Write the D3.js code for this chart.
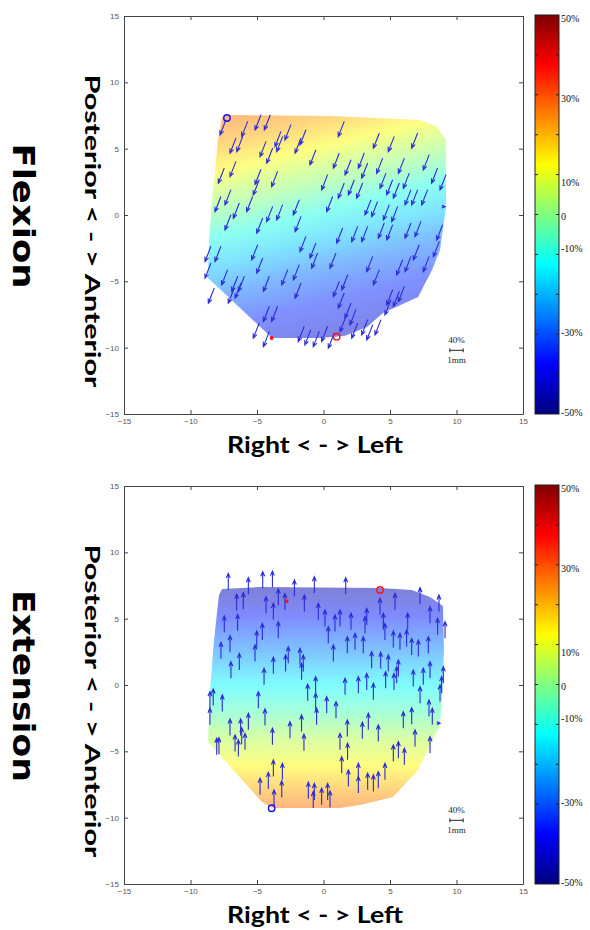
<!DOCTYPE html>
<html>
<head>
<meta charset="utf-8">
<script src="https://cdn.jsdelivr.net/npm/d3@7"></script>
<style>
  body { margin: 0; background: #fff; }
  .tick text { font-family: "Liberation Sans", Arial, sans-serif; font-size: 8px; fill: #555; }
  .tick line, .domain { stroke: #444; }
</style>
</head>
<body>
<script>
// ---- data -------------------------------------------------------------
var axisTicks = [-15, -10, -5, 0, 5, 10, 15];
var cbLabels = ["50%", "30%", "10%", "0", "-10%", "-30%", "-50%"];
// where each colour-bar label sits, on the bar's -50..50 scale
var cbLabelPos = [49, 29, 8, -0.5, -8.5, -29.5, -49.5];
var cbTickVals = [-40, -30, -20, -10, 0, 10, 20, 30, 40];

// outline of the measured region (mm)
var flexOutline = [[-7.63, 7.39], [-7.18, 7.54], [0.49, 7.46], [7.26, 7.16], [8.53, 6.64], [9.21, 5.66],
  [9.21, 0.61], [8.76, -2.63], [8.16, -4.14], [7.11, -6.18], [4.47, -7.38], [3.27, -8.44], [1.62, -9.11],
  [-0.26, -9.27], [-3.87, -9.27], [-8.68, -4.74], [-8.61, -1.88], [-8.31, 1.89], [-7.93, 5.66]];
var extOutline = [[-7.63, 7.24], [-4.77, 7.39], [4.25, 7.31], [6.65, 7.16], [8.0, 6.64], [8.98, 5.96],
  [9.06, 2.64], [8.91, -1.13], [8.76, -3.01], [7.11, -6.4], [5.23, -8.44], [2.74, -9.04], [1.24, -9.27],
  [-3.87, -9.27], [-4.62, -8.82], [-8.68, -4.29], [-8.53, -0.37], [-8.23, 3.39], [-7.86, 6.78]];

// strain along the colour axis (top end -> bottom end)
var flexGradEnds = [[-2.5, 8.5], [2, -10]];
var flexStopAt = [0, 0.1, 0.2, 0.33, 0.45, 0.56, 0.68, 0.8, 1];
var flexStopVal = [26, 20, 12, 1, -10, -18, -27, -34, -44];
var extGradEnds = [[0, 7.5], [0, -9.5]];
var extStopAt = [0, 0.14, 0.32, 0.44, 0.56, 0.68, 0.8, 0.92, 1];
var extStopVal = [-46, -35, -22, -13, -5, 5, 13, 22, 28];

// displacement arrows: head positions (mm) and displacement vector
var flexVec = [-0.45, -1.15];
var flexHeads = [[-7.78, 6.03], [-5.15, 6.41], [-4.45, 6.41], [-6.15, 5.91], [-3.65, 5.15], [-2.9, 5.66],
  [-7.03, 4.65], [-6.52, 4.78], [-4.77, 4.4], [-4.27, 3.9], [-3.52, 4.78], [-2.14, 4.65], [-1.77, 5.28],
  [-1.02, 3.77], [-7.91, 2.39], [-7.03, 2.89], [-5.28, 1.51], [-5.15, 2.3], [-3.9, 2.14], [-8.16, 0.25],
  [-7.41, 0.76], [-5.78, 0.25], [-6.78, -0.25], [-4.27, -0.5], [-3.52, -0.37], [-2.27, 0.0], [-2.14, -1.25],
  [-7.41, -1.13], [-5.02, -1.38], [-1.77, -2.76], [-1.02, -3.26], [-8.91, -3.51], [-8.16, -3.51], [-5.4, -3.39],
  [-0.89, -4.01], [-8.91, -4.77], [-7.66, -5.27], [-6.9, -5.77], [-6.4, -5.77], [-5.02, -4.39], [-4.52, -5.77],
  [-3.14, -5.27], [-2.27, -4.89], [-2.14, -6.27], [-8.66, -6.65], [-7.16, -6.65], [-6.65, -6.27], [-4.52, -8.03],
  [-3.9, -8.03], [-5.28, -9.29], [-4.52, -9.92], [-1.9, -9.54], [-1.4, -9.79], [-0.77, -9.92], [-0.14, -9.54],
  [1.11, 5.91], [3.75, 5.03], [4.87, 4.78], [6.63, 5.03], [0.74, 3.52], [1.62, 3.02], [2.62, 3.52], [2.87, 2.77],
  [4.0, 3.14], [5.63, 3.14], [7.5, 3.4], [8.13, 2.39], [8.76, 1.89], [-0.14, 1.89], [1.11, 1.26], [1.87, 1.51],
  [2.49, 1.26], [4.25, 2.01], [4.75, 1.51], [5.25, 1.26], [6.0, 2.01], [6.13, 0.76], [6.63, 0.76], [7.38, 0.76],
  [0.24, 0.25], [3.12, 0.0], [3.62, -0.12], [4.5, -0.37], [5.13, -0.5], [2.12, -2.01], [2.87, -2.01], [4.12, -1.75],
  [4.75, -1.88], [6.13, -1.75], [6.88, -1.63], [8.51, -1.88], [0.99, -2.13], [0.49, -4.01], [3.25, -4.27],
  [3.75, -5.27], [5.5, -4.52], [6.13, -4.27], [6.75, -3.39], [7.5, -4.27], [8.26, -3.14], [0.74, -6.15],
  [1.37, -5.65], [1.11, -7.03], [1.62, -7.78], [1.99, -8.28], [4.75, -6.78], [5.25, -6.9], [5.63, -6.53],
  [4.62, -7.53], [2.87, -9.04], [2.12, -9.29], [3.25, -9.42], [3.87, -9.04], [0.36, -10.04], [1.24, -8.79]];
var extVec = [0, 1.25];
var extHeads = [[-7.16, 8.42], [-5.65, 8.09], [-4.57, 8.54], [-3.84, 8.59], [-2.19, 7.92], [-0.69, 8.17],
  [-6.53, 6.84], [-6.03, 6.96], [-4.32, 6.66], [-3.4, 7.24], [-2.9, 6.91], [-3.77, 6.16], [-1.44, 6.79],
  [-0.39, 6.16], [-7.46, 5.2], [-6.46, 5.33], [-4.6, 4.65], [-3.4, 4.78], [-5.02, 4.07], [-7.03, 3.72],
  [-7.71, 3.22], [-5.15, 3.02], [-6.33, 2.39], [-2.65, 2.89], [-1.77, 2.77], [-1.52, 2.26], [-2.85, 2.26],
  [-3.77, 2.09], [-6.96, 1.76], [-4.47, 1.26], [-1.65, 1.64], [-0.59, 0.63], [-1.19, 0.06], [-8.29, -0.3],
  [-8.54, -0.5], [-7.61, -0.75], [-4.9, -0.5], [-0.59, -0.62], [-8.54, -1.75], [-4.4, -1.8], [-1.65, -2.26],
  [-0.52, -1.75], [-7.03, -2.56], [-6.23, -2.56], [-5.65, -2.13], [-6.15, -3.21], [-5.9, -3.64], [-6.65, -3.76],
  [-7.86, -3.97], [-8.03, -4.01], [-6.4, -4.14], [-2.52, -2.76], [-3.84, -3.26], [-1.47, -3.71], [-3.77, -5.65],
  [-3.09, -5.9], [-4.15, -6.58], [-4.77, -7.03], [-3.14, -7.23], [-3.72, -7.91], [-1.14, -7.33], [-0.69, -7.41],
  [-0.14, -7.78], [-0.77, -8.03],
  [1.67, 8.09], [7.26, 7.34], [8.68, 6.79], [5.38, 6.91], [4.25, 6.54], [0.11, 5.66], [0.86, 5.28], [1.24, 5.66],
  [2.07, 5.41], [3.25, 5.78], [4.5, 5.41], [6.33, 5.41], [8.01, 5.91], [8.58, 5.03], [9.14, 4.78], [3.12, 5.15],
  [4.62, 4.65], [0.36, 4.4], [0.74, 3.02], [1.79, 3.65], [2.37, 3.9], [2.99, 3.65], [5.25, 4.07], [5.75, 3.9],
  [6.25, 4.15], [6.63, 3.52], [7.13, 3.39], [7.88, 3.65], [3.62, 2.52], [4.3, 2.47], [4.87, 2.26], [5.63, 1.89],
  [5.5, 1.38], [9.01, 1.38], [4.67, 1.0], [5.3, 0.88], [6.75, 1.13], [7.5, 1.26], [8.01, 1.76], [8.88, 0.63],
  [1.62, 0.51], [2.62, 0.63], [3.25, 0.88], [3.75, 0.13], [7.26, -0.12], [8.76, 0.0], [0.24, -0.88], [0.94, -1.25],
  [3.37, -2.13], [4.12, -3.01], [6.0, -2.01], [6.63, -1.71], [7.93, -1.13], [8.18, -1.75], [1.79, -2.63],
  [2.92, -2.81], [1.24, -3.64], [1.81, -4.39], [1.37, -5.4], [1.87, -6.4], [2.62, -5.9], [2.62, -6.9],
  [3.32, -6.65], [3.75, -6.78], [4.12, -6.53], [4.62, -5.9], [5.25, -4.52], [5.63, -4.27], [6.08, -4.77],
  [6.88, -3.39], [8.01, -3.89], [0.31, -7.41], [0.49, -7.98]];

// tiny arrows at the right edge
var flexStub = [[9.14, 0.63]];
var extStub = [[8.76, -2.88]];

// reference markers
var flexMarkers = [{x: -7.26, y: 7.31, c: "#1010ff", r: 3.2}, {x: 0.99, y: -9.17, c: "#ff1010", r: 3.2}, {x: -3.9, y: -9.27, c: "#ff1010", r: 1.2}];
var extMarkers = [{x: 4.25, y: 7.16, c: "#ff1010", r: 3.2}, {x: -3.9, y: -9.29, c: "#1010ff", r: 3.2}, {x: -2.77, y: 6.32, c: "#ff1010", r: 1.2}];

// ---- drawing ----------------------------------------------------------
var W = 590, H = 930;
var svg = d3.select("body").append("svg").attr("width", W).attr("height", H);
var defs = svg.append("defs");

function jet(t) {
  function c(v) { return Math.max(0, Math.min(1, v)); }
  return d3.rgb(255 * c(1.5 - Math.abs(4 * t - 3)), 255 * c(1.5 - Math.abs(4 * t - 2)), 255 * c(1.5 - Math.abs(4 * t - 1))).formatHex();
}
var color = d3.scaleSequential(jet).domain([-50, 50]);

function panel(cfg) {
  var top = cfg.top;
  var x = d3.scaleLinear().domain([-15, 15]).range([124, 523]);
  var y = d3.scaleLinear().domain([-15, 15]).range([top + 398, top]);
  var g = svg.append("g");

  // strain surface
  var grad = defs.append("linearGradient").attr("id", cfg.id + "-grad")
    .attr("gradientUnits", "userSpaceOnUse")
    .attr("x1", x(cfg.gradEnds[0][0])).attr("y1", y(cfg.gradEnds[0][1]))
    .attr("x2", x(cfg.gradEnds[1][0])).attr("y2", y(cfg.gradEnds[1][1]));
  grad.selectAll("stop").data(cfg.stopAt).enter().append("stop")
    .attr("offset", function(d) { return d; })
    .attr("stop-color", function(d, i) { return color(cfg.stopVal[i]); });

  var line = d3.line().x(function(d) { return x(d[0]); }).y(function(d) { return y(d[1]); }).curve(d3.curveLinearClosed);
  g.append("path").attr("d", line(cfg.outline))
    .attr("fill", "url(#" + cfg.id + "-grad)").attr("fill-opacity", 0.5);

  // arrows
  function arrowPath(hx, hy, tx, ty, L) {
    var dx = hx - tx, dy = hy - ty, len = Math.sqrt(dx * dx + dy * dy);
    var ux = dx / len, uy = dy / len, a = 0.4;
    var c = Math.cos(a), s = Math.sin(a);
    var b1x = hx - L * (ux * c - uy * s), b1y = hy - L * (ux * s + uy * c);
    var b2x = hx - L * (ux * c + uy * s), b2y = hy - L * (-ux * s + uy * c);
    return "M" + tx + "," + ty + "L" + hx + "," + hy + "M" + b1x + "," + b1y + "L" + hx + "," + hy + "L" + b2x + "," + b2y;
  }
  g.selectAll("path.arrow").data(cfg.heads).enter().append("path").attr("class", "arrow")
    .attr("d", function(d) {
      return arrowPath(x(d[0]), y(d[1]), x(d[0] - cfg.vec[0]), y(d[1] - cfg.vec[1]), 5);
    })
    .attr("fill", "none").attr("stroke", "#2b2bd6").attr("stroke-width", 1.1);
  g.selectAll("path.stub").data(cfg.stub).enter().append("path").attr("class", "stub")
    .attr("d", function(d) { return arrowPath(x(d[0]), y(d[1]), x(d[0] - 0.2), y(d[1]), 3.5); })
    .attr("fill", "none").attr("stroke", "#2b2bd6").attr("stroke-width", 1.2);

  // markers
  g.selectAll("circle.mk").data(cfg.markers).enter().append("circle").attr("class", "mk")
    .attr("cx", function(d) { return x(d.x); }).attr("cy", function(d) { return y(d.y); })
    .attr("r", function(d) { return d.r; })
    .attr("fill", function(d) { return d.r < 2 ? d.c : "none"; })
    .attr("stroke", function(d) { return d.c; }).attr("stroke-width", 1.4);

  // axes box with inward ticks
  g.append("g").attr("transform", "translate(0," + (top + 398) + ")")
    .call(d3.axisBottom(x).tickValues(axisTicks).tickSize(-4).tickSizeOuter(0).tickPadding(4));
  g.append("g").attr("transform", "translate(0," + top + ")")
    .call(d3.axisTop(x).tickValues(axisTicks).tickSize(-4).tickSizeOuter(0).tickFormat(""));
  g.append("g").attr("transform", "translate(124,0)")
    .call(d3.axisLeft(y).tickValues(axisTicks).tickSize(-4).tickSizeOuter(0).tickPadding(5));
  g.append("g").attr("transform", "translate(523,0)")
    .call(d3.axisRight(y).tickValues(axisTicks).tickSize(-4).tickSizeOuter(0).tickFormat(""));

  // scale legend
  var lg = g.append("g").attr("font-family", "'Liberation Serif', 'Times New Roman', serif").attr("font-size", 9).attr("fill", "#222");
  lg.append("text").attr("x", x(10)).attr("y", y(-9.4) + 3).attr("text-anchor", "middle").text("40%");
  lg.append("text").attr("x", x(10)).attr("y", y(-10.95) + 3).attr("text-anchor", "middle").text("1mm");
  lg.append("path").attr("d", "M" + x(9.5) + "," + y(-10.2) + "H" + x(10.5) +
      "M" + x(9.5) + "," + (y(-10.2) - 2) + "v4M" + x(10.5) + "," + (y(-10.2) - 2) + "v4")
    .attr("stroke", "#222").attr("stroke-width", 1);

  // colour bar
  var cb = d3.scaleLinear().domain([-50, 50]).range([top + 398, top - 1]);
  var cgrad = defs.append("linearGradient").attr("id", cfg.id + "-cb")
    .attr("x1", 0).attr("y1", 1).attr("x2", 0).attr("y2", 0);
  cgrad.selectAll("stop").data(d3.range(0, 65)).enter().append("stop")
    .attr("offset", function(d) { return d / 64; })
    .attr("stop-color", function(d) { return jet(d / 64); });
  g.append("rect").attr("x", 535).attr("y", cb(50)).attr("width", 24).attr("height", cb(-50) - cb(50))
    .attr("fill", "url(#" + cfg.id + "-cb)").attr("stroke", "#222").attr("stroke-width", 1);
  g.selectAll("path.cbt").data(cbTickVals).enter().append("path").attr("class", "cbt")
    .attr("d", function(d) { return "M535," + cb(d) + "h3M559," + cb(d) + "h-3"; })
    .attr("stroke", "#222").attr("stroke-width", 1);
  g.selectAll("text.cbl").data(cbLabels).enter().append("text").attr("class", "cbl")
    .attr("x", 561).attr("y", function(d, i) { return cb(cbLabelPos[i]) + 3.5; })
    .attr("font-family", "'Liberation Serif', 'Times New Roman', serif").attr("font-size", 10).attr("fill", "#111")
    .text(function(d) { return d; });

  // titles
  g.append("text").attr("transform", "translate(13," + (top + 200) + ") rotate(90)")
    .attr("text-anchor", "middle").attr("font-family", "'DejaVu Sans', sans-serif").attr("font-weight", "bold")
    .attr("font-size", 30).attr("textLength", cfg.titleLen).attr("lengthAdjust", "spacingAndGlyphs")
    .text(cfg.title);
  g.append("text").attr("transform", "translate(85," + (top + 215) + ") rotate(90)")
    .attr("text-anchor", "middle").attr("font-family", "Lato, 'Open Sans', sans-serif").attr("font-weight", "bold")
    .attr("font-size", 21).attr("textLength", 313).attr("lengthAdjust", "spacingAndGlyphs")
    .text("Posterior < - > Anterior");
  g.append("text").attr("x", 315).attr("y", top + 437)
    .attr("text-anchor", "middle").attr("font-family", "Lato, 'Open Sans', sans-serif").attr("font-weight", "bold")
    .attr("font-size", 22).attr("textLength", 176).attr("lengthAdjust", "spacingAndGlyphs")
    .text("Right < - > Left");
}

panel({id: "flex", top: 16, outline: flexOutline, gradEnds: flexGradEnds, stopAt: flexStopAt, stopVal: flexStopVal,
  heads: flexHeads, vec: flexVec, stub: flexStub, markers: flexMarkers, title: "Flexion", titleLen: 145});
panel({id: "ext", top: 486, outline: extOutline, gradEnds: extGradEnds, stopAt: extStopAt, stopVal: extStopVal,
  heads: extHeads, vec: extVec, stub: extStub, markers: extMarkers, title: "Extension", titleLen: 192});
</script>
</body>
</html>
